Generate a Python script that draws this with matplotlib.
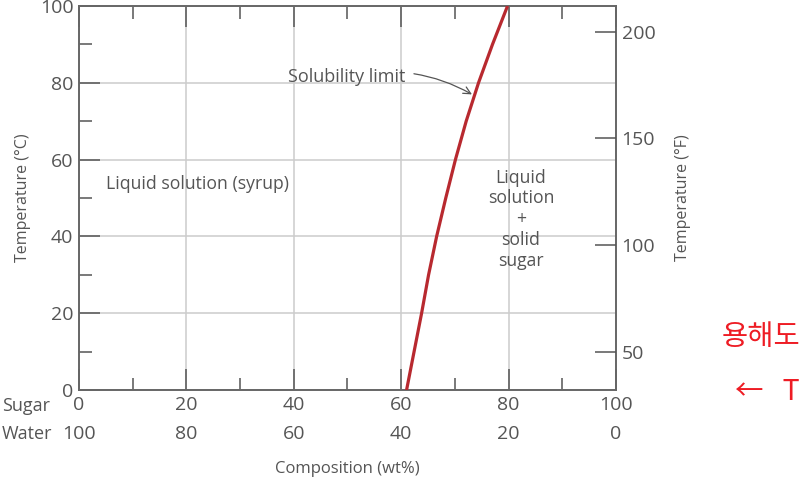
import matplotlib
matplotlib.use('Agg')
import matplotlib.pyplot as plt

# ---- data ----
temp_c = [0, 10, 20, 30, 40, 50, 60, 70, 80, 90, 100]
sugar_wt = [61.0, 62.4, 63.8, 65.1, 66.6, 68.3, 70.1, 72.1, 74.4, 77.0, 79.8]

sugar_ticks = [0, 20, 40, 60, 80, 100]
water_ticks = [100, 80, 60, 40, 20, 0]
temp_c_ticks = [0, 20, 40, 60, 80, 100]
temp_f_ticks = [50, 100, 150, 200]

GRAY = '#555555'
plt.rcParams['font.family'] = ['Open Sans', 'DejaVu Sans']

fig = plt.figure(figsize=(8.12, 4.88), dpi=100)
ax = fig.add_axes([79 / 812, 1 - 390 / 488, (616 - 79) / 812, (390 - 6) / 488])

ax.plot(sugar_wt, temp_c, color='#b8292f', lw=2.3, solid_joinstyle='round',
        solid_capstyle='butt', zorder=3)

ax.set_xlim(0, 100)
ax.set_ylim(0, 100)
ax.set_xticks(sugar_ticks)
ax.set_yticks(temp_c_ticks)
ax.set_xticks(range(10, 100, 20), minor=True)
ax.set_yticks(range(10, 100, 20), minor=True)
ax.grid(True, which='major', color='#cccccc', lw=1.1)
ax.set_axisbelow(True)
ax.tick_params(which='both', direction='in', top=True, right=False,
               color=GRAY, width=1.1, labelcolor=GRAY, labelsize=14, pad=4)
ax.tick_params(which='major', length=15)
ax.tick_params(which='minor', length=9)
for sp in ax.spines.values():
    sp.set_color('#666666')
    sp.set_linewidth(1.4)
ax.set_ylabel('Temperature (°C)', color=GRAY, fontsize=11.5, labelpad=6)

# Fahrenheit scale on the right
ax2 = ax.twinx()
ax2.set_ylim(32, 212)
ax2.set_yticks(temp_f_ticks)
ax2.tick_params(direction='in', length=15, color=GRAY, width=1.1,
                labelcolor=GRAY, labelsize=14, pad=4)
for sp in ax2.spines.values():
    sp.set_visible(False)
ax2.set_ylabel('Temperature (°F)', color=GRAY, fontsize=11.5, labelpad=14)

# water row under the sugar tick labels
for xs, w in zip(sugar_ticks, water_ticks):
    ax.text(xs, -0.115, str(w), transform=ax.get_xaxis_transform(),
            ha='center', va='center', fontsize=14, color=GRAY)
fig.text(2 / 812, 1 - 406 / 488, 'Sugar', ha='left', va='center', fontsize=13, color=GRAY)
fig.text(2 / 812, 1 - 434 / 488, 'Water', ha='left', va='center', fontsize=13, color=GRAY)
ax.text(50, -0.205, 'Composition (wt%)', transform=ax.get_xaxis_transform(),
        ha='center', va='center', fontsize=12, color=GRAY)

# region labels
ax.text(22, 53.6, 'Liquid solution (syrup)', ha='center', va='center',
        fontsize=12.7, color=GRAY)
ax.text(82.3, 44.5, 'Liquid\nsolution\n+\nsolid\nsugar', ha='center', va='center',
        fontsize=12.7, color=GRAY, linespacing=1.2)
ax.annotate('Solubility limit', xy=(73.4, 76.8), xytext=(49.9, 81.5),
            ha='center', va='center', fontsize=13, color=GRAY,
            arrowprops=dict(arrowstyle='->', color=GRAY, lw=0.9,
                            connectionstyle='arc3,rad=-0.2', shrinkA=4, shrinkB=1))

# red Korean note at the right edge
fig.text(722 / 812, 1 - 337 / 488, '용해도', ha='left', va='center', fontsize=20.5,
         color='#ee1c24', family=['Noto Sans CJK KR', 'DejaVu Sans'])
fig.text(735 / 812, 1 - 392 / 488, '←   T', ha='left', va='center', fontsize=20.5,
         color='#ee1c24', family=['Noto Sans CJK KR', 'DejaVu Sans'])

fig.savefig('out.png', dpi=100)
